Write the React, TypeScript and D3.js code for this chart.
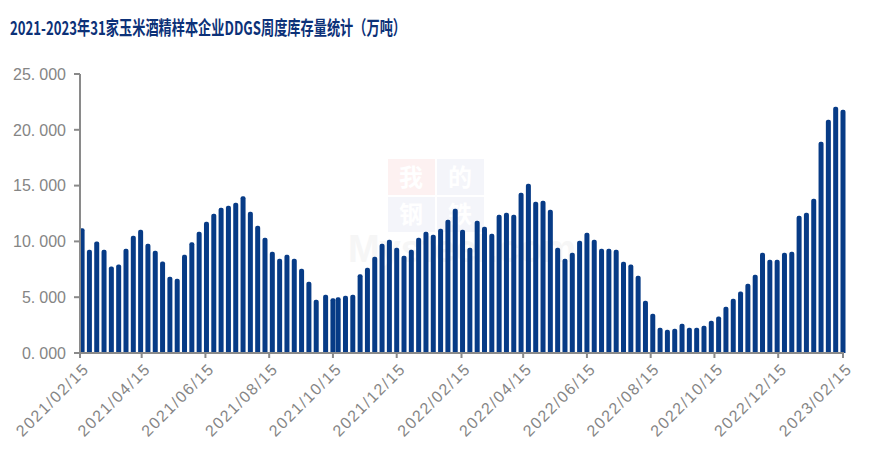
import React from "react";
import * as d3 from "d3";

const titleText = "2021-2023年31家玉米酒精样本企业DDGS周度库存量统计（万吨）";

const dates: string[] = [
  "2021-02-17","2021-02-24","2021-03-03","2021-03-10","2021-03-17","2021-03-24","2021-03-31",
  "2021-04-07","2021-04-14","2021-04-21","2021-04-28","2021-05-05","2021-05-12","2021-05-19",
  "2021-05-26","2021-06-02","2021-06-09","2021-06-16","2021-06-23","2021-06-30","2021-07-07",
  "2021-07-14","2021-07-21","2021-07-28","2021-08-04","2021-08-11","2021-08-18","2021-08-25",
  "2021-09-01","2021-09-08","2021-09-15","2021-09-22","2021-09-29","2021-10-08","2021-10-15",
  "2021-10-20","2021-10-27","2021-11-03","2021-11-10","2021-11-17","2021-11-24","2021-12-01",
  "2021-12-08","2021-12-15","2021-12-22","2021-12-29","2022-01-05","2022-01-12","2022-01-19",
  "2022-01-26","2022-02-02","2022-02-09","2022-02-16","2022-02-23","2022-03-02","2022-03-09",
  "2022-03-16","2022-03-23","2022-03-30","2022-04-06","2022-04-13","2022-04-20","2022-04-27",
  "2022-05-04","2022-05-11","2022-05-18","2022-05-25","2022-06-01","2022-06-08","2022-06-15",
  "2022-06-22","2022-06-29","2022-07-06","2022-07-13","2022-07-20","2022-07-27","2022-08-03",
  "2022-08-10","2022-08-17","2022-08-24","2022-08-31","2022-09-07","2022-09-14","2022-09-21",
  "2022-09-28","2022-10-05","2022-10-12","2022-10-19","2022-10-26","2022-11-02","2022-11-09",
  "2022-11-16","2022-11-23","2022-11-30","2022-12-07","2022-12-14","2022-12-21","2022-12-28",
  "2023-01-04","2023-01-11","2023-01-18","2023-01-25","2023-02-01","2023-02-08","2023-02-15",
];

const stocks: number[] = [
  11.17, 9.26, 9.98, 9.26, 7.74, 7.92, 9.35, 10.51, 11.05, 9.80, 9.17, 8.21, 6.84, 6.66,
  8.81, 9.92, 10.87, 11.77, 12.48, 13.02, 13.20, 13.47, 14.04, 12.66, 11.41, 10.33, 9.08, 8.45,
  8.81, 8.45, 7.55, 6.39, 4.78, 5.22, 4.90, 4.99, 5.14, 5.22, 7.05, 7.65, 8.63, 9.80,
  10.15, 9.44, 8.72, 9.26, 10.33, 10.87, 10.60, 11.14, 11.94, 12.93, 11.05, 9.44, 11.86, 11.32,
  10.69, 12.39, 12.57, 12.39, 14.36, 15.17, 13.56, 13.65, 12.84, 9.44, 8.45, 8.99, 10.06, 10.78,
  10.15, 9.35, 9.35, 9.26, 8.18, 7.92, 6.93, 4.69, 3.52, 2.27, 2.09, 2.18, 2.63, 2.27,
  2.27, 2.45, 2.90, 3.26, 4.15, 4.87, 5.50, 6.21, 7.02, 8.99, 8.36, 8.36, 8.99, 9.08,
  12.30, 12.57, 13.83, 18.93, 20.90, 22.07, 21.80,
];

const xTickDates: string[] = [
  "2021-02-15","2021-04-15","2021-06-15","2021-08-15","2021-10-15","2021-12-15",
  "2022-02-15","2022-04-15","2022-06-15","2022-08-15","2022-10-15","2022-12-15","2023-02-15",
];
const yTicks: number[] = [0, 5, 10, 15, 20, 25];

const W = 887;
const H = 472;
const left = 80;
const right = 843;
const top = 74;
const bottom = 353;

const parse = d3.timeParse("%Y-%m-%d");
const fmtTick = d3.timeFormat("%Y/%m/%d");

export default function App() {
  const x = d3
    .scaleTime()
    .domain([parse("2021-02-15") as Date, parse("2023-02-15") as Date])
    .range([left, right]);
  const y = d3.scaleLinear().domain([0, 25]).range([bottom, top]);

  const barW = 5;
  const r = 2;
  const axisColor = "#8a8a8a";
  const textColor = "#858585";
  const barColor = "#073b86";

  const barPath = (cx: number, v: number) => {
    const x0 = cx - barW / 2;
    const x1 = cx + barW / 2;
    const yt = y(v);
    const yb = y(0);
    return `M${x0},${yb}L${x0},${yt + r}Q${x0},${yt} ${x0 + r},${yt}L${x1 - r},${yt}Q${x1},${yt} ${x1},${yt + r}L${x1},${yb}Z`;
  };

  return (
    <svg
      width={W}
      height={H}
      style={{ position: "absolute", left: 0, top: 0, background: "#fff" }}
      fontFamily="'Liberation Sans', Arial, sans-serif"
    >
      <rect x={0} y={0} width={W} height={H} fill="#fff" />
      <text
        x={10}
        y={35}
        fontFamily="'Noto Sans CJK SC', sans-serif"
        fontWeight="bold"
        fontSize={19}
        fill="#0c3178"
        textLength={396}
        lengthAdjust="spacingAndGlyphs"
      >
        {titleText}
      </text>

      {/* watermark */}
      <g>
        <rect x={388} y={159} width={47} height={36} fill="#fdf1f1" />
        <rect x={437} y={159} width={47} height={36} fill="#f4f5fa" />
        <rect x={388} y={197} width={47} height={35} fill="#f4f5fa" />
        <rect x={437} y={197} width={47} height={35} fill="#f4f5fa" />
        <text x={462} y={262} textAnchor="middle" fontSize={38} fontWeight="bold" fill="#f6f6f6">
          Mysteel.com
        </text>
        <g fontFamily="'Noto Sans CJK SC', serif" fontSize={24} fontWeight="bold" fill="#ffffff" textAnchor="middle">
          <text x={411} y={186}>我</text>
          <text x={460} y={186}>的</text>
          <text x={411} y={223}>钢</text>
          <text x={460} y={223}>铁</text>
        </g>
      </g>

      {/* bars */}
      <g fill={barColor}>
        {dates.map((d, i) => (
          <path key={d} d={barPath(x(parse(d) as Date), stocks[i])} />
        ))}
      </g>

      {/* y axis */}
      <line x1={left} x2={left} y1={top} y2={bottom + 1} stroke={axisColor} strokeWidth={2} />
      {yTicks.map((t) => {
        const [ip] = d3.format(".3f")(t).split(".");
        return (
          <g key={t}>
            <line x1={left - 6} x2={left} y1={y(t)} y2={y(t)} stroke={axisColor} strokeWidth={2} />
            <text
              x={66}
              y={y(t)}
              dy="0.36em"
              textAnchor="end"
              fontSize={16}
              fill={textColor}
            >
              {ip}.<tspan dx={4}>000</tspan>
            </text>
          </g>
        );
      })}

      {/* x axis */}
      <line x1={left - 1} x2={right + 1} y1={bottom} y2={bottom} stroke={axisColor} strokeWidth={2} />
      {xTickDates.map((d) => {
        const px = x(parse(d) as Date);
        return (
          <g key={d}>
            <line x1={px} x2={px} y1={bottom} y2={bottom + 5} stroke={axisColor} strokeWidth={2} />
            <text
              transform={`translate(${px + 5},${bottom + 14}) rotate(-45)`}
              textAnchor="end"
              dy="0.35em"
              fontSize={16}
              fill={textColor}
              textLength={94}
              lengthAdjust="spacing"
            >
              {fmtTick(parse(d) as Date)}
            </text>
          </g>
        );
      })}
    </svg>
  );
}
